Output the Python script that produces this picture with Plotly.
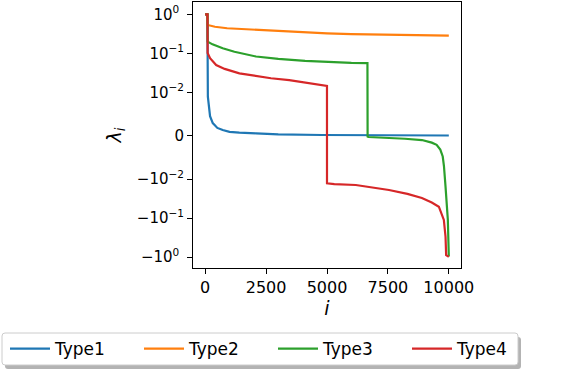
import numpy as np
import plotly.graph_objects as go

# eigenvalue index and value (symlog y axis)
type1_i = [0, 94, 100, 110, 200, 311, 500, 720, 1000, 1400, 2088, 3000, 4800, 7000, 10000]
type1_v = [1.0, 1.0, 0.1, 0.009, 0.0045, 0.0029, 0.0018, 0.0013, 0.0009, 0.0007, 0.00055, 0.0003, 0.00016, 0.0001, 0.00005]

type2_i = [0, 94, 100, 400, 900, 1500, 2088, 3000, 4000, 5000, 6000, 7500, 9000, 10000]
type2_v = [1.0, 1.0, 0.535, 0.48, 0.44, 0.42, 0.40, 0.37, 0.34, 0.325, 0.31, 0.30, 0.29, 0.285]

type3_i = [0, 94, 100, 300, 720, 1200, 2088, 3000, 4100, 5000, 6000, 6660, 6667, 6700, 7500,
           8200, 8895, 9300, 9500, 9650, 9750, 9800, 9865, 9920, 9960, 10000]
type3_v = [1.0, 1.0, 0.20, 0.17, 0.135, 0.11, 0.083, 0.072, 0.064, 0.06, 0.057, 0.056, -0.0002, -0.0003, -0.00046,
           -0.0007, -0.001, -0.0016, -0.0021, -0.0032, -0.0048, -0.007, -0.0157, -0.05, -0.112, -0.97]

type4_i = [0, 94, 100, 200, 450, 800, 1404, 2088, 2700, 3450, 4200, 4953, 4999, 5000, 5300,
           6181, 6900, 7544, 8300, 8895, 9300, 9591, 9796, 9865, 9890, 9950, 10000]
type4_v = [1.0, 1.0, 0.102, 0.075, 0.0503, 0.04, 0.0308, 0.026, 0.023, 0.0207, 0.0175, 0.0152, 0.0146,
           -0.0129, -0.0135, -0.0142, -0.0165, -0.0191, -0.024, -0.0306, -0.04, -0.0512, -0.112, -0.302,
           -0.89, -0.95, -0.98]

names = ["Type1", "Type2", "Type3", "Type4"]
colors = ["#1f77b4", "#ff7f0e", "#2ca02c", "#d62728"]

x_ticks = [0, 2500, 5000, 7500, 10000]
y_ticks = [1.0, 0.1, 0.01, 0.0, -0.01, -0.1, -1.0]
y_ticktext = ["10<sup>0</sup>\u00a0", "10<sup>−1</sup>", "10<sup>−2</sup>", "0",
              "−10<sup>−2</sup>", "−10<sup>−1</sup>", "−10<sup>0</sup>\u00a0"]

LINTHRESH = 0.01
LINSCALE = 1.0 / (1.0 - 1.0 / 10.0)  # matplotlib symlog, linscale=1, base=10


def symlog(v):
    v = np.asarray(v, dtype=float)
    a = np.abs(v)
    return np.where(a <= LINTHRESH, v / LINTHRESH * LINSCALE,
                    np.sign(v) * (LINSCALE + np.log10(np.maximum(a, LINTHRESH) / LINTHRESH)))


# plot area in pixels: x 193..461, y 2..268
W, H = 584, 372
L, R, T, B = 193, 123, 2, 104
pw, ph = W - L - R, H - T - B


def px2x(px):
    return (px - L) / pw


def px2y(py):
    return (H - B - py) / ph


fig = go.Figure()
series = [(type1_i, type1_v), (type2_i, type2_v), (type3_i, type3_v), (type4_i, type4_v)]
for k, ((xi, yv), name, c) in enumerate(zip(series, names, colors)):
    lg = "legend" if k == 0 else f"legend{k + 1}"
    fig.add_trace(go.Scatter(x=xi, y=symlog(yv), mode="lines", name=name, legend=lg,
                             line=dict(color=c, width=2.2)))


# legend frame with shadow (matplotlib style)
def rrect(x0, y0, x1, y1, r=3):
    return (f"M{px2x(x0 + r)},{px2y(y0)} L{px2x(x1 - r)},{px2y(y0)} "
            f"Q{px2x(x1)},{px2y(y0)} {px2x(x1)},{px2y(y0 + r)} L{px2x(x1)},{px2y(y1 - r)} "
            f"Q{px2x(x1)},{px2y(y1)} {px2x(x1 - r)},{px2y(y1)} L{px2x(x0 + r)},{px2y(y1)} "
            f"Q{px2x(x0)},{px2y(y1)} {px2x(x0)},{px2y(y1 - r)} L{px2x(x0)},{px2y(y0 + r)} "
            f"Q{px2x(x0)},{px2y(y0)} {px2x(x0 + r)},{px2y(y0)} Z")


fig.add_shape(type="path", xref="paper", yref="paper", path=rrect(5, 337, 521, 369),
              fillcolor="#b3b3b3", line=dict(width=0))
fig.add_shape(type="path", xref="paper", yref="paper", path=rrect(2, 333, 518, 365),
              fillcolor="white", line=dict(color="#cccccc", width=1))

font = "DejaVu Sans"
legend_common = dict(orientation="h", xanchor="left", yanchor="middle", y=px2y(349),
                     font=dict(size=17, family=font, color="black"), borderwidth=0,
                     bgcolor="rgba(0,0,0,0)", itemwidth=40)
leg_left = [5, 139, 273, 407]

fig.update_layout(
    width=W, height=H,
    margin=dict(l=L, r=R, t=T, b=B, autoexpand=False),
    paper_bgcolor="white", plot_bgcolor="white",
    font=dict(family=font, size=16, color="black"),
    showlegend=True,
    legend=dict(x=px2x(leg_left[0]), **legend_common),
    legend2=dict(x=px2x(leg_left[1]), **legend_common),
    legend3=dict(x=px2x(leg_left[2]), **legend_common),
    legend4=dict(x=px2x(leg_left[3]), **legend_common),
    xaxis=dict(range=[-500, 10500], tickvals=x_ticks, ticktext=[str(v) for v in x_ticks],
               showline=True, mirror=True, linecolor="black", linewidth=1,
               ticks="outside", ticklen=5, tickcolor="black", showgrid=False, zeroline=False,
               title=dict(text="<i>i</i>", standoff=4)),
    yaxis=dict(range=[-3.392, 3.428], tickvals=symlog(y_ticks), ticktext=y_ticktext,
               tickfont=dict(size=15),
               showline=True, mirror=True, linecolor="black", linewidth=1,
               ticks="outside", ticklen=5, tickcolor="black", showgrid=False, zeroline=False,
               title=dict(text="<i>λ<sub>i</sub></i>", standoff=10)),
)

fig.write_html("out.html", config={"displayModeBar": False},
               post_script="document.body.style.margin='0';")
